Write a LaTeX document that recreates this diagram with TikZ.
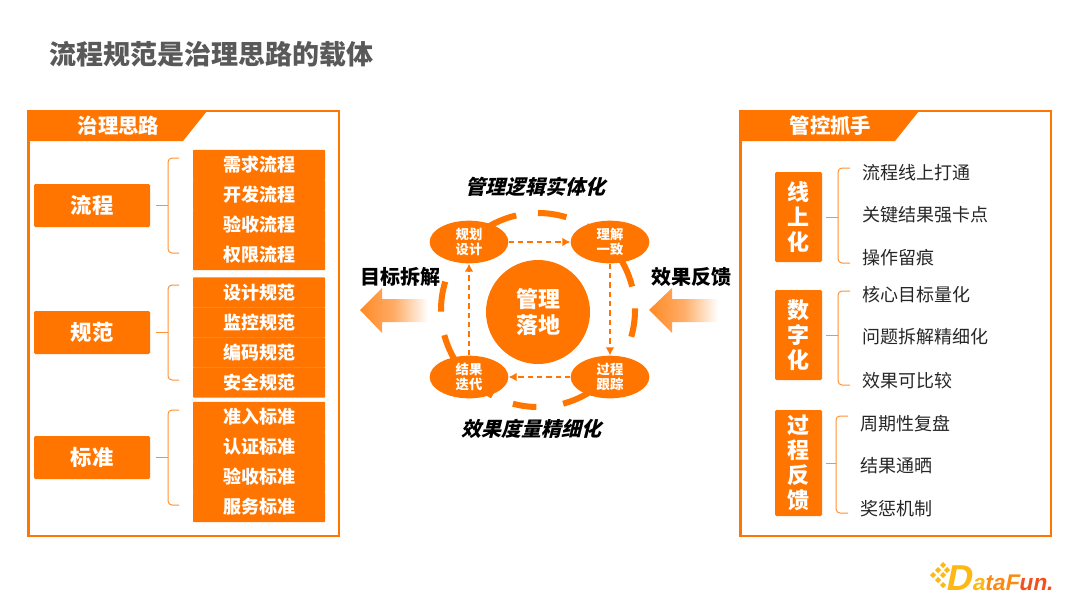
\documentclass[tikz,border=0pt]{standalone}
\usepackage{fontspec}
\setmainfont{Noto Sans CJK SC}
\newfontfamily\logofont{Liberation Sans}
\usetikzlibrary{shapes.geometric,arrows.meta}
\definecolor{brandorange}{HTML}{FF7500}
\definecolor{titlegray}{HTML}{595959}
\definecolor{logoyellow}{HTML}{FDB813}
\definecolor{logomid}{HTML}{F98A12}
\definecolor{logored}{HTML}{F2501E}
\begin{document}
\begin{tikzpicture}[x=0.75pt, y=-0.75pt,
  panel/.style={draw=brandorange, line width=2pt},
  headtext/.style={text=white, font=\bfseries\fontsize{15.3}{18}\selectfont},
  block/.style={fill=brandorange, rounded corners=1pt, text=white, minimum width=87pt, minimum height=32.25pt, inner sep=0pt, font=\bfseries\fontsize{16}{19}\selectfont},
  item/.style={fill=brandorange, rounded corners=0.5pt, text=white, minimum width=99pt, minimum height=22.6pt, inner sep=0pt, font=\bfseries\fontsize{13.5}{16}\selectfont},
  tallblock/.style={fill=brandorange, rounded corners=1pt, text=white, minimum width=35.25pt, inner sep=0pt, align=center, font=\bfseries\fontsize{16.5}{18.6}\selectfont},
  lever/.style={anchor=west, inner sep=0pt, text=black!85, font=\fontsize{13.5}{16}\selectfont},
  bracket/.style={draw=brandorange!80, line width=0.75pt, rounded corners=3pt},
  stage/.style={ellipse, fill=brandorange, text=white, minimum width=59pt, minimum height=32pt, inner sep=0pt, align=center, font=\bfseries\fontsize{10}{11.5}\selectfont},
  ringline/.style={draw=brandorange, line width=4.5pt},
  flow/.style={draw=brandorange, line width=1.2pt, dash pattern=on 4pt off 3pt, -{Latex[length=6pt,width=6.5pt]}},
  slogan/.style={inner sep=0pt, xslant=0.25, transform shape, font=\bfseries\fontsize{15}{18}\selectfont},
  sidetext/.style={inner sep=0pt, font=\bfseries\fontsize{15}{18}\selectfont},
  logodot/.style={fill=logoyellow, rotate=45, minimum size=3.2pt, inner sep=0pt}]
\useasboundingbox (0,0) rectangle (1080,608);
\node[anchor=west, inner sep=0pt, text=titlegray, font=\bfseries\fontsize{20.25}{24}\selectfont] (title) at (49,54) {流程规范是治理思路的载体};

\draw[panel] (28.5,111) rectangle (339,536);
\fill[brandorange] (28,111) -- (207,111) -- (183,141) -- (28,141) -- cycle;
\node[headtext] (thinking) at (118.5,126) {治理思路};
\node[block] (process) at (92,205.5) {流程};
\node[block] (norm) at (92,332.5) {规范};
\node[block] (standard) at (92,457.5) {标准};
\node[item] (demand) at (259,165) {需求流程};
\node[item] (develop) at (259,195) {开发流程};
\node[item] (accept) at (259,225) {验收流程};
\node[item] (permit) at (259,255) {权限流程};
\node[item] (design) at (259,292.5) {设计规范};
\node[item] (monitor) at (259,322.5) {监控规范};
\node[item] (coding) at (259,352.5) {编码规范};
\node[item] (safety) at (259,382.5) {安全规范};
\node[item] (entry) at (259,417) {准入标准};
\node[item] (certify) at (259,447) {认证标准};
\node[item] (acceptstd) at (259,477) {验收标准};
\node[item] (service) at (259,507) {服务标准};
\draw[bracket] (179,158) -- (168,158) -- (168,253) -- (179,253);
\draw[bracket, shorten <=4.5pt] (process.east) -- (168,205.5);
\draw[bracket] (179,285) -- (168,285) -- (168,380) -- (179,380);
\draw[bracket, shorten <=4.5pt] (norm.east) -- (168,332.5);
\draw[bracket] (179,410) -- (168,410) -- (168,505) -- (179,505);
\draw[bracket, shorten <=4.5pt] (standard.east) -- (168,457.5);

\draw[panel] (740.5,111) rectangle (1051,536);
\fill[brandorange] (740,111) -- (919,111) -- (895,141) -- (740,141) -- cycle;
\node[headtext] (control) at (830.5,126) {管控抓手};
\node[tallblock, minimum height=67.5pt] (online) at (798.5,217) {线\\上\\化};
\node[tallblock, minimum height=67.5pt] (digital) at (798.5,335) {数\\字\\化};
\node[tallblock, minimum height=79.5pt] (feedback) at (798.5,463) {过\\程\\反\\馈};
\node[lever] (connect) at (862,173) {流程线上打通};
\node[lever] (gate) at (862,215) {关键结果强卡点};
\node[lever] (trace) at (862,258) {操作留痕};
\node[lever] (target) at (862,295) {核心目标量化};
\node[lever] (split) at (862,337) {问题拆解精细化};
\node[lever] (compare) at (862,381) {效果可比较};
\node[lever] (review) at (860,424) {周期性复盘};
\node[lever] (publish) at (860,466) {结果通晒};
\node[lever] (reward) at (860,509) {奖惩机制};
\draw[bracket] (850,168) -- (838,168) -- (838,263) -- (850,263);
\draw[bracket, shorten <=3pt] (online.east) -- (838,217);
\draw[bracket] (850,291) -- (838,291) -- (838,385) -- (850,385);
\draw[bracket, shorten <=3pt] (digital.east) -- (838,335);
\draw[bracket] (848,416) -- (836,416) -- (836,513) -- (848,513);
\draw[bracket, shorten <=3pt] (feedback.east) -- (836,463);

\draw[ringline, domain=73:90, smooth, samples=12] plot ({538+97*cos(\x)}, {310-97*sin(\x)});
\draw[ringline, domain=103:135, smooth, samples=12] plot ({538+97*cos(\x)}, {310-97*sin(\x)});
\draw[ringline, domain=50:60, smooth, samples=12] plot ({538+97*cos(\x)}, {310-97*sin(\x)});
\draw[ringline, domain=14:40, smooth, samples=12] plot ({538+97*cos(\x)}, {310-97*sin(\x)});
\draw[ringline, domain=-16:1, smooth, samples=12] plot ({538+97*cos(\x)}, {310-97*sin(\x)});
\draw[ringline, domain=-48:-34, smooth, samples=12] plot ({538+97*cos(\x)}, {310-97*sin(\x)});
\draw[ringline, domain=-75:-52, smooth, samples=12] plot ({538+97*cos(\x)}, {310-97*sin(\x)});
\draw[ringline, domain=-105:-91, smooth, samples=12] plot ({538+97*cos(\x)}, {310-97*sin(\x)});
\draw[ringline, domain=-130:-118, smooth, samples=12] plot ({538+97*cos(\x)}, {310-97*sin(\x)});
\draw[ringline, domain=-165:-140, smooth, samples=12] plot ({538+97*cos(\x)}, {310-97*sin(\x)});
\draw[ringline, domain=163:181, smooth, samples=12] plot ({538+97*cos(\x)}, {310-97*sin(\x)});

\node[circle, fill=brandorange, text=white, minimum size=78pt, inner sep=0pt, align=center, font=\bfseries\fontsize{16.5}{20}\selectfont] (landing) at (538,312) {管理\\落地};
\node[stage] (plan) at (469,242) {规划\\设计};
\node[stage] (understand) at (610,242) {理解\\一致};
\node[stage] (track) at (610,377) {过程\\跟踪};
\node[stage] (iterate) at (469,377) {结果\\迭代};
\draw[flow] (plan) -- (understand);
\draw[flow] (understand) -- (track);
\draw[flow] (track) -- (iterate);
\draw[flow] (iterate) -- (plan);

\node[slogan] (logic) at (537,187) {管理逻辑实体化};
\node[slogan] (measure) at (533,429) {效果度量精细化};
\node[sidetext] (breakdown) at (400.5,276.5) {目标拆解};
\node[sidetext] (response) at (691.5,276.5) {效果反馈};
\shade[left color=brandorange!85, right color=white, middle color=brandorange!60] (360,310) -- (382,288) -- (382,299) -- (428,299) -- (428,322) -- (382,322) -- (382,333) -- cycle;
\shade[left color=brandorange!85, right color=white, middle color=brandorange!60] (649,310) -- (672,288) -- (672,299) -- (718,299) -- (718,322) -- (672,322) -- (672,333) -- cycle;

\node[anchor=west, inner sep=0pt, xslant=0.2, transform shape, font=\logofont\bfseries\fontsize{17}{20}\selectfont] (brand) at (948,578) {\textcolor{logoyellow}{\fontsize{27}{28}\selectfont D}\textcolor{logoyellow}{a}\textcolor{logomid}{ta}\textcolor{logomid}{F}\textcolor{logored}{un.}};
\node[logodot] (dota) at (933,575) {};
\node[logodot] (dotb) at (938,570) {};
\node[logodot] (dotc) at (943,565) {};
\node[logodot] (dotd) at (938,580) {};
\node[logodot] (dote) at (943,575) {};
\node[logodot] (dotf) at (947,570) {};
\node[logodot] (dotg) at (943,585) {};
\end{tikzpicture}
\end{document}
